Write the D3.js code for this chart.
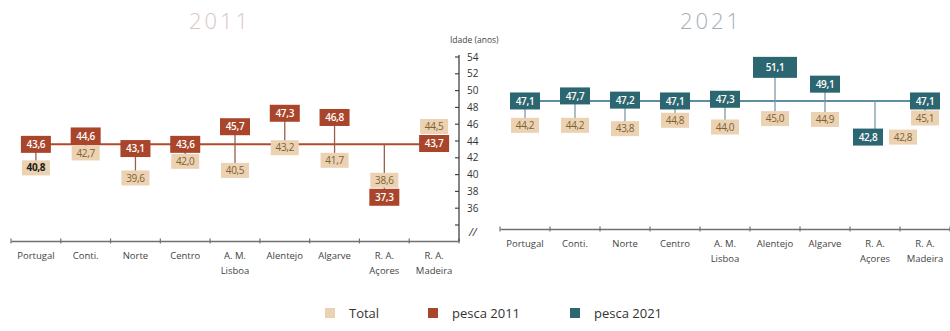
<!DOCTYPE html>
<html><head><meta charset="utf-8">
<script src="https://cdn.jsdelivr.net/npm/d3@7"></script>
<style>
body{margin:0;background:#fff;}
svg{display:block;font-family:"Open Sans","Noto Sans",sans-serif;}
</style></head><body>
<svg id="chart" width="950" height="331"></svg>
<script>
// Idade média (anos): total da população vs. pescadores, por região
const categories = ["Portugal", "Conti.", "Norte", "Centro", "A. M.\nLisboa", "Alentejo", "Algarve", "R. A.\nAçores", "R. A.\nMadeira"];
const pesca2011 = [43.6, 44.6, 43.1, 43.6, 45.7, 47.3, 46.8, 37.3, 43.7];
const total2011 = [40.8, 42.7, 39.6, 42.0, 40.5, 43.2, 41.7, 38.6, 44.5];
const pesca2021 = [47.1, 47.7, 47.2, 47.1, 47.3, 51.1, 49.1, 42.8, 47.1];
const total2021 = [44.2, 44.2, 43.8, 44.8, 44.0, 45.0, 44.9, 42.8, 45.1];
const yTickValues = [36, 38, 40, 42, 44, 46, 48, 50, 52, 54];
const legendLabels = ["Total", "pesca 2011", "pesca 2021"];

const fmt = v => d3.format(".1f")(v).replace(".", ",");

const svg = d3.select("#chart");
const y = d3.scaleLinear().domain([36, 54]).range([208.2, 57]);

const panels = [
  { title: "2011", pesca: pesca2011, total: total2011, x0: 11, x1: 459, axisY: 241, shift: 0,
    fill: "#a9452a", line: "#b04a2c", stem: "#9b5e4b", titleX: 220, titleColor: "#dcc6c3",
    boldFirstTotal: true, highlight: null },
  { title: "2021", pesca: pesca2021, total: total2021, x0: 500, x1: 950, axisY: 229, shift: -14,
    fill: "#2c6670", line: "#5e8ca0", stem: "#7d9aa6", titleX: 711, titleColor: "#a3afb8",
    boldFirstTotal: false, highlight: "Alentejo" }
];

const totalFill = "#ebd2b3", totalText = "#80602f";

panels.forEach(p => {
  const g = svg.append("g");
  const x = d3.scaleBand().domain(categories).range([p.x0, p.x1]);
  const cx = c => x(c) + x.bandwidth() / 2;
  const yy = v => y(v) + p.shift;
  const ref = p.pesca[0];

  // title
  g.append("text").attr("x", p.titleX).attr("y", 29).attr("text-anchor", "middle")
    .attr("font-size", 22).attr("font-weight", 300).attr("letter-spacing", 3)
    .attr("fill", p.titleColor).text(p.title);

  // category axis
  const ax = g.append("g").attr("transform", `translate(0,${p.axisY})`)
    .call(d3.axisBottom(x).tickSize(0).tickSizeOuter(0).tickPadding(0));
  ax.select(".domain").attr("stroke", "#707070").attr("stroke-width", 1.5);
  ax.selectAll(".tick text").each(function(d) {
    const t = d3.select(this).text(null).attr("font-size", 9.5).attr("fill", "#444")
      .attr("font-family", "'Open Sans','Noto Sans',sans-serif").attr("dy", null).attr("y", 18);
    d.split("\n").forEach((s, i) => t.append("tspan").attr("x", 0).attr("dy", i ? 15 : 0).text(s));
  });
  const bounds = d3.range(categories.length + 1).map(i => p.x0 + i * x.bandwidth());
  ax.selectAll(".bnd").data(bounds).join("line").attr("class", "bnd")
    .attr("x1", d => d).attr("x2", d => d).attr("y1", -2.5).attr("y2", 2.5)
    .attr("stroke", "#707070").attr("stroke-width", 1.2);

  // reference line at the Portugal value
  g.append("line")
    .attr("x1", cx(categories[0])).attr("x2", cx(categories[categories.length - 1]))
    .attr("y1", yy(ref)).attr("y2", yy(ref))
    .attr("stroke", p.line).attr("stroke-width", 2);

  const rows = categories.map((c, i) => {
    const pv = p.pesca[i], tv = p.total[i];
    const big = c === p.highlight;
    const pw = big ? 44 : 30, ph = big ? 21 : 17;
    const tw = 28, th = 15;
    let px = cx(c), tx = cx(c), py = yy(pv), ty = yy(tv);
    const sep = (ph + th) / 2 + 1;
    if (Math.abs(pv - tv) < 0.05) {
      px = cx(c) - 7; tx = px + pw / 2 + 6 + tw / 2;
    } else if (Math.abs(ty - py) < sep) {
      ty = py + Math.sign(ty - py) * sep;
    }
    const ext = d3.extent([ref, pv, tv]);
    return { c, i, pv, tv, pw, ph, tw, th, px, py, tx, ty, s0: yy(ext[1]), s1: yy(ext[0]), sx: cx(c) };
  });

  // stems
  g.selectAll(".stem").data(rows).join("line").attr("class", "stem")
    .attr("x1", d => d.sx).attr("x2", d => d.sx).attr("y1", d => d.s0).attr("y2", d => d.s1)
    .attr("stroke", p.stem).attr("stroke-width", 1.3);

  // total boxes
  const tg = g.selectAll(".tot").data(rows).join("g").attr("class", "tot")
    .attr("transform", d => `translate(${d.tx},${d.ty})`);
  tg.append("rect").attr("x", d => -d.tw / 2).attr("y", d => -d.th / 2)
    .attr("width", d => d.tw).attr("height", d => d.th).attr("fill", totalFill);
  tg.append("text").attr("text-anchor", "middle").attr("dy", "0.36em").attr("font-size", 10)
    .attr("font-weight", d => (p.boldFirstTotal && d.i === 0) ? 700 : 500)
    .attr("fill", d => (p.boldFirstTotal && d.i === 0) ? "#1e1a16" : totalText)
    .attr("letter-spacing", -0.3).text(d => fmt(d.tv));

  // fishing boxes
  const pg = g.selectAll(".pes").data(rows).join("g").attr("class", "pes")
    .attr("transform", d => `translate(${d.px},${d.py})`);
  pg.append("rect").attr("x", d => -d.pw / 2).attr("y", d => -d.ph / 2)
    .attr("width", d => d.pw).attr("height", d => d.ph).attr("fill", p.fill);
  pg.append("text").attr("text-anchor", "middle").attr("dy", "0.36em").attr("font-size", 10)
    .attr("font-weight", 600).attr("fill", "#fff").attr("letter-spacing", -0.3)
    .text(d => fmt(d.pv));
});

// shared age axis
const yg = svg.append("g").attr("transform", "translate(459,0)");
yg.append("line").attr("x1", 0).attr("x2", 0).attr("y1", 55).attr("y2", 241)
  .attr("stroke", "#444").attr("stroke-width", 1.3);
const tickVals = d3.range(34, 55, 2);
yg.selectAll(".yt").data(tickVals).join("line").attr("class", "yt")
  .attr("x1", -4).attr("x2", 0).attr("y1", d => y(d)).attr("y2", d => y(d))
  .attr("stroke", "#444").attr("stroke-width", 1.2);
yg.selectAll(".yl").data(yTickValues).join("text").attr("class", "yl")
  .attr("x", 8).attr("y", d => y(d)).attr("dy", "0.35em").attr("font-size", 10)
  .attr("fill", "#333").text(d => d);
yg.append("text").attr("x", 10).attr("y", 236).attr("font-size", 11).attr("font-style", "italic")
  .attr("fill", "#333").text("//");
svg.append("text").attr("x", 450).attr("y", 43).attr("font-size", 8.5).attr("fill", "#444")
  .text("Idade (anos)");

// legend
const legendFills = [totalFill, panels[0].fill, panels[1].fill];
const legendX = [325, 428, 570];
const lg = svg.selectAll(".leg").data(legendLabels).join("g").attr("class", "leg")
  .attr("transform", (d, i) => `translate(${legendX[i]},308)`);
lg.append("rect").attr("width", 10).attr("height", 10).attr("fill", (d, i) => legendFills[i]);
lg.append("text").attr("x", 24).attr("y", 10).attr("font-size", 13).attr("fill", "#333").text(d => d);
</script>
</body></html>
